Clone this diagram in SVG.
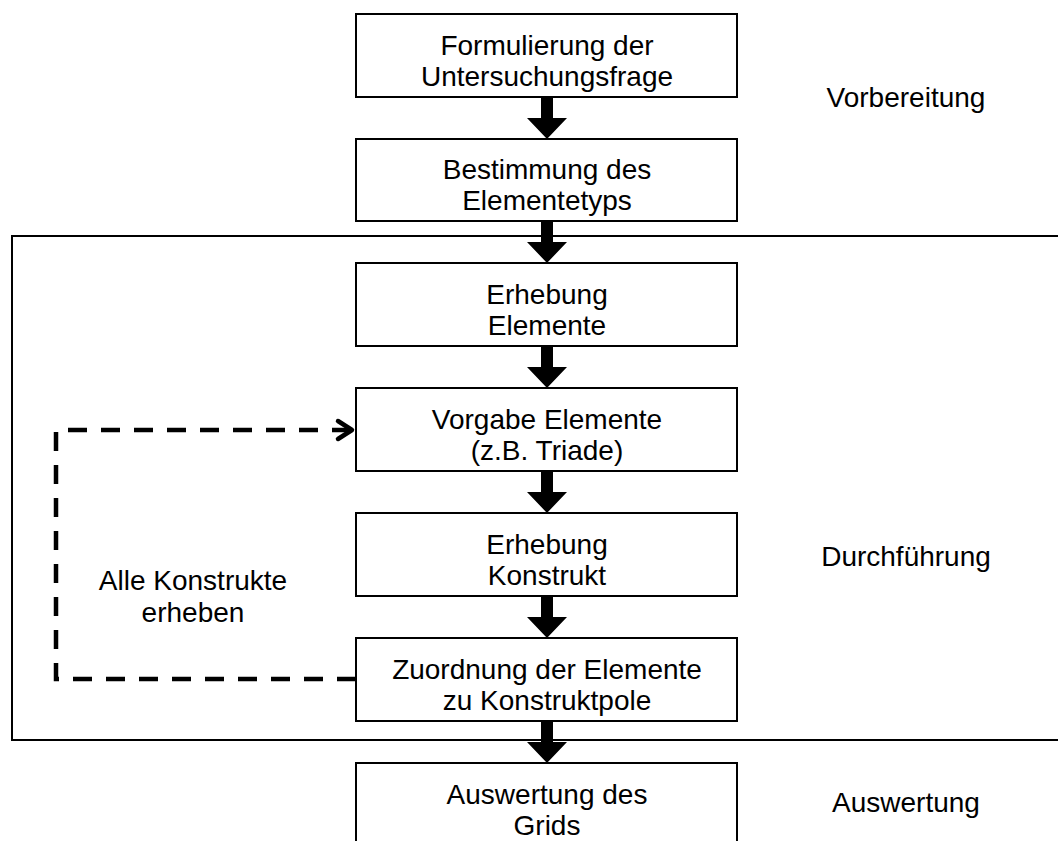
<svg xmlns="http://www.w3.org/2000/svg" width="1058" height="841" viewBox="0 0 1058 841">
  <style>
    .box { fill: #ffffff; stroke: #000000; stroke-width: 2; }
    .frame { fill: none; stroke: #000000; stroke-width: 2; }
    .t { font-family: "Liberation Sans", Arial, sans-serif; font-size: 28px; fill: #000000; text-anchor: middle; }
    .arrow { fill: #000000; stroke: none; }
    .dash { fill: none; stroke: #000000; stroke-width: 4.5; stroke-dasharray: 19 14; }
    .chev { fill: none; stroke: #000000; stroke-width: 4.5; stroke-linecap: round; stroke-linejoin: round; }
  </style>

  <rect width="1058" height="841" fill="#ffffff"/>

  <!-- phase frame (Durchführung) -->
  <rect class="frame" x="12" y="236" width="1060" height="504"/>

  <g id="connectors">
    <!-- block arrows: shaft 12 wide, head 40 wide x 21 tall -->
    <path class="arrow" d="M541,97 L553,97 L553,118 L567,118 L547,139 L527,118 L541,118 Z"/>
    <path class="arrow" d="M541,221 L553,221 L553,242 L567,242 L547,263 L527,242 L541,242 Z"/>
    <path class="arrow" d="M541,346 L553,346 L553,367 L567,367 L547,388 L527,367 L541,367 Z"/>
    <path class="arrow" d="M541,471 L553,471 L553,492 L567,492 L547,513 L527,492 L541,492 Z"/>
    <path class="arrow" d="M541,596 L553,596 L553,617 L567,617 L547,638 L527,617 L541,617 Z"/>
    <path class="arrow" d="M541,721 L553,721 L553,742 L567,742 L547,763 L527,742 L541,742 Z"/>

    <!-- loop back: all constructs -->
    <path class="dash" d="M356,679 L56,679 L56,430 L350,430"/>
    <path class="chev" d="M338,421 L352,430 L338,439"/>
  </g>

  <g id="n1">
    <rect class="box" x="356" y="14" width="381" height="83"/>
    <text class="t" x="547" y="55">Formulierung der</text>
    <text class="t" x="547" y="86">Untersuchungsfrage</text>
  </g>
  <g id="n2">
    <rect class="box" x="356" y="139" width="381" height="82"/>
    <text class="t" x="547" y="179">Bestimmung des</text>
    <text class="t" x="547" y="210">Elementetyps</text>
  </g>
  <g id="n3">
    <rect class="box" x="356" y="263" width="381" height="83"/>
    <text class="t" x="547" y="304">Erhebung</text>
    <text class="t" x="547" y="335">Elemente</text>
  </g>
  <g id="n4">
    <rect class="box" x="356" y="388" width="381" height="83"/>
    <text class="t" x="547" y="429">Vorgabe Elemente</text>
    <text class="t" x="547" y="460">(z.B. Triade)</text>
  </g>
  <g id="n5">
    <rect class="box" x="356" y="513" width="381" height="83"/>
    <text class="t" x="547" y="554">Erhebung</text>
    <text class="t" x="547" y="585">Konstrukt</text>
  </g>
  <g id="n6">
    <rect class="box" x="356" y="638" width="381" height="83"/>
    <text class="t" x="547" y="679">Zuordnung der Elemente</text>
    <text class="t" x="547" y="710">zu Konstruktpole</text>
  </g>
  <g id="n7">
    <rect class="box" x="356" y="763" width="381" height="100"/>
    <text class="t" x="547" y="804">Auswertung des</text>
    <text class="t" x="547" y="835">Grids</text>
  </g>

  <g id="labels">
    <text class="t" x="906" y="107">Vorbereitung</text>
    <text class="t" x="906" y="566">Durchführung</text>
    <text class="t" x="906" y="812">Auswertung</text>
    <text class="t" x="193" y="590">Alle Konstrukte</text>
    <text class="t" x="193" y="622">erheben</text>
  </g>
</svg>
